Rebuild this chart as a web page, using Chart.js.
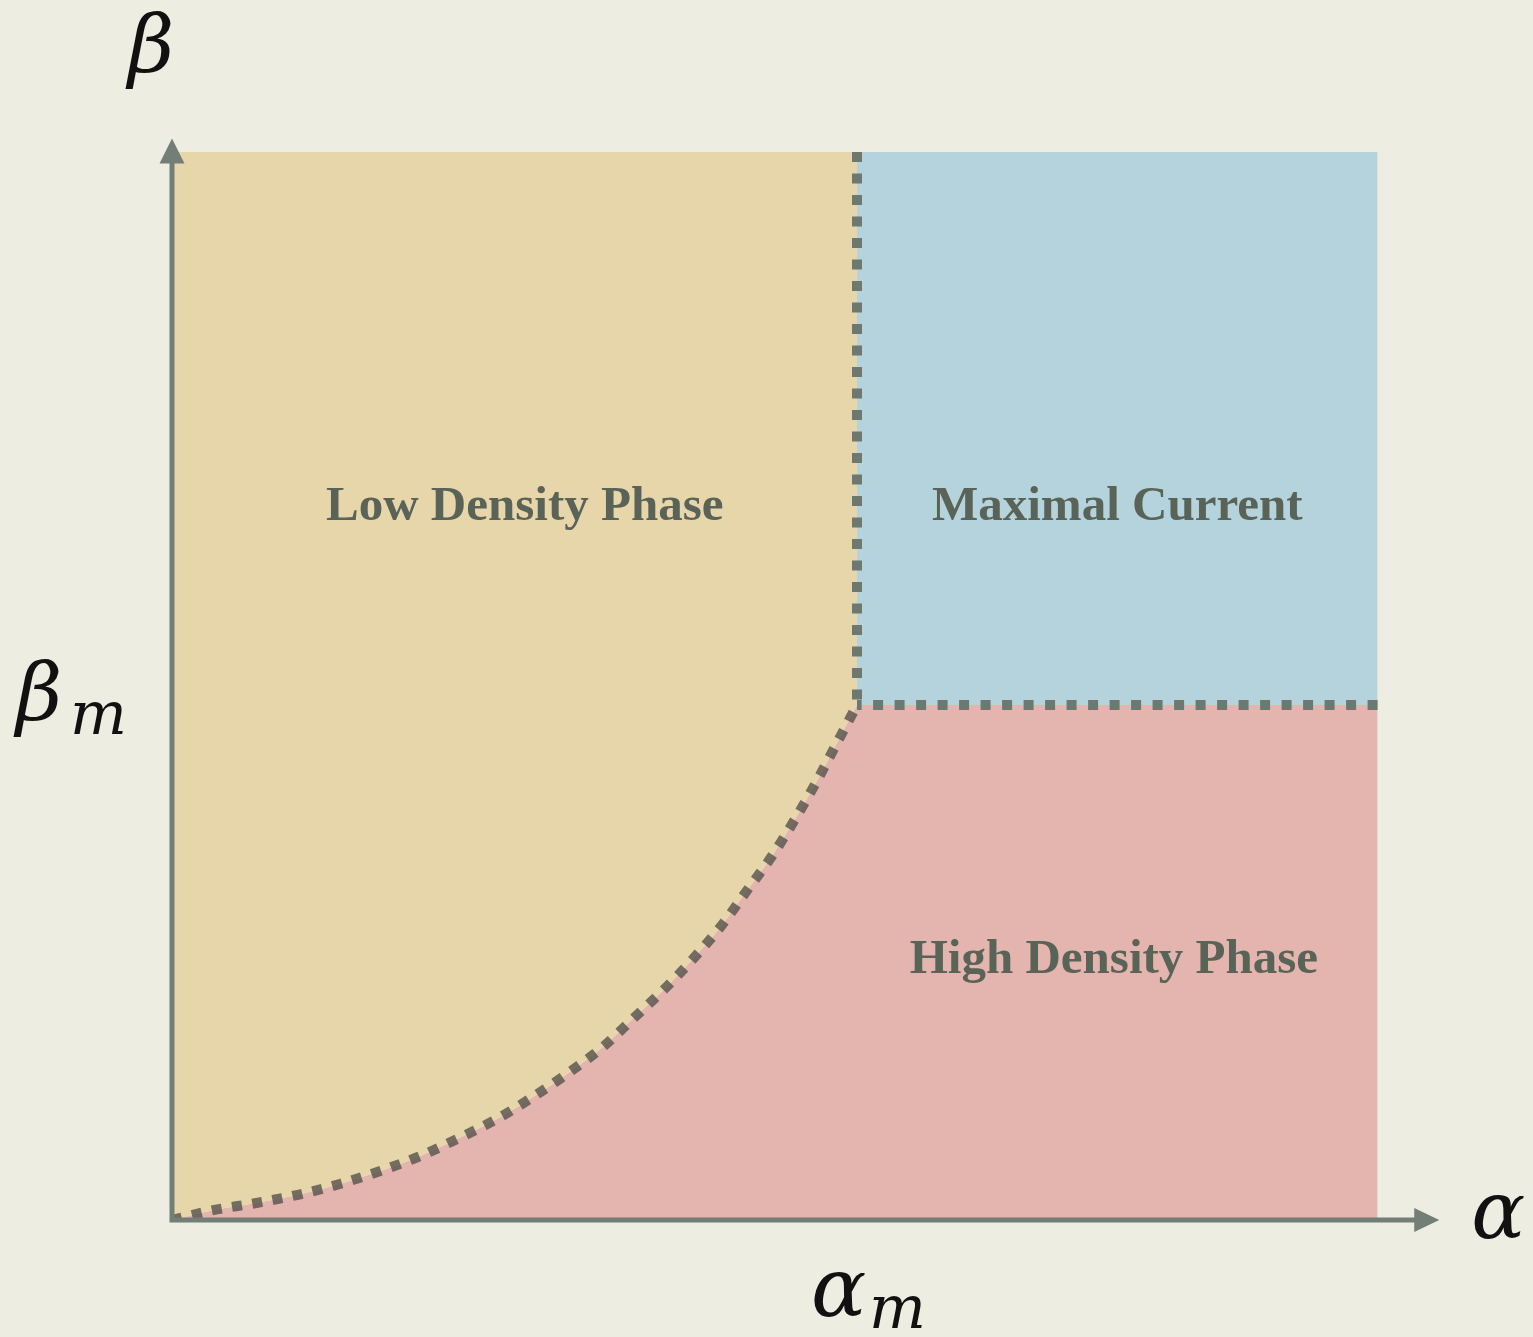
<!DOCTYPE html>
<html>
<head>
<meta charset="utf-8">
<script src="https://cdn.jsdelivr.net/npm/chart.js@4.4.0/dist/chart.umd.min.js"></script>
<style>
  html, body { margin: 0; padding: 0; background: #eeede1; }
  #wrap { width: 1533px; height: 1337px; position: relative; }
</style>
</head>
<body>
<div id="wrap"><canvas id="c" width="1533" height="1337"></canvas></div>
<script>
// ---- data (units: alpha / alpha_m, beta / beta_m) ----
const alphaCurve = [0, 0.060, 0.123, 0.184, 0.245, 0.304, 0.362, 0.419, 0.474, 0.527, 0.578, 0.629, 0.674, 0.720, 0.762, 0.803, 0.839, 0.876, 0.909, 0.940, 0.969, 1.0];
const betaCurve  = [0, 0.019, 0.033, 0.049, 0.070, 0.095, 0.124, 0.159, 0.196, 0.239, 0.285, 0.336, 0.392, 0.450, 0.509, 0.573, 0.639, 0.707, 0.777, 0.849, 0.922, 1.0];
const alphaM = 1;
const betaM = 1;
const alphaEdge = 1.76;   // right edge of shaded regions
const betaEdge = 2.074;   // top edge of shaded regions
const alphaAxisMax = 1.85;
const betaAxisMax = 2.10;
const regionLabels = ["Low Density Phase", "Maximal Current", "High Density Phase"];
const regionLabelPos = [[0.515, 1.384], [1.38, 1.384], [1.375, 0.505]];

const curvePts = alphaCurve.map((a, i) => ({x: a, y: betaCurve[i]}));

const axisColor = '#737f76';
const dotColor = '#6d7870';
const smooth = { cubicInterpolationMode: 'monotone' };

const datasets = [
  { // dotted phase boundary curve (top)
    data: curvePts, borderColor: 'rgba(85,82,78,0.8)', borderWidth: 10, borderDash: [10, 10.5],
    pointRadius: 0, fill: false, order: 0, borderCapStyle: 'butt', ...smooth
  },
  { // vertical boundary alpha = alpha_m
    data: [{x: alphaM, y: betaEdge}, {x: alphaM, y: betaM}], borderColor: dotColor, borderWidth: 10,
    borderDash: [10, 11.5], pointRadius: 0, fill: false, order: 1
  },
  { // horizontal boundary beta = beta_m
    data: [{x: alphaEdge, y: betaM}, {x: alphaM, y: betaM}], borderColor: dotColor, borderWidth: 10,
    borderDash: [10, 11.5], pointRadius: 0, fill: false, order: 1
  },
  { // low density region
    data: [...curvePts], borderWidth: 0, borderColor: 'rgba(0,0,0,0)', backgroundColor: '#e8d6ab',
    pointRadius: 0, fill: {value: betaEdge}, order: 5, ...smooth
  },
  { // high density region (under the curve)
    data: [...curvePts], borderWidth: 0, borderColor: 'rgba(0,0,0,0)', backgroundColor: '#e3b5ae',
    pointRadius: 0, fill: {value: 0}, order: 5, ...smooth
  },
  { // high density region (alpha > alpha_m)
    data: [{x: alphaM, y: betaM}, {x: alphaEdge, y: betaM}], borderWidth: 0, borderColor: 'rgba(0,0,0,0)', backgroundColor: '#e3b5ae',
    pointRadius: 0, fill: {value: 0}, order: 5
  },
  { // maximal current region
    data: [{x: alphaM, y: betaM}, {x: alphaEdge, y: betaM}], borderWidth: 0, borderColor: 'rgba(0,0,0,0)', backgroundColor: '#b5d3dc',
    pointRadius: 0, fill: {value: betaEdge}, order: 5
  }
];

const decor = {
  id: 'decor',
  afterDatasetsDraw(chart) {
    const ctx = chart.ctx;
    const xs = chart.scales.x, ys = chart.scales.y;
    const x0 = xs.getPixelForValue(0), y0 = ys.getPixelForValue(0);
    const xEnd = xs.getPixelForValue(alphaAxisMax), yEnd = ys.getPixelForValue(betaAxisMax);
    ctx.save();
    // axes
    ctx.strokeStyle = axisColor; ctx.fillStyle = axisColor; ctx.lineWidth = 5;
    ctx.beginPath();
    ctx.moveTo(x0, y0 + 2.5); ctx.lineTo(x0, yEnd + 20);
    ctx.moveTo(x0 - 2.5, y0); ctx.lineTo(xEnd - 20, y0);
    ctx.stroke();
    ctx.beginPath();
    ctx.moveTo(x0, yEnd); ctx.lineTo(x0 - 12.5, yEnd + 25); ctx.lineTo(x0 + 12.5, yEnd + 25); ctx.closePath(); ctx.fill();
    ctx.beginPath();
    ctx.moveTo(xEnd, y0); ctx.lineTo(xEnd - 25, y0 - 12); ctx.lineTo(xEnd - 25, y0 + 12); ctx.closePath(); ctx.fill();

    // region labels
    ctx.fillStyle = '#5a6358';
    ctx.font = 'bold 49px "Liberation Serif"';
    ctx.textAlign = 'center'; ctx.textBaseline = 'middle';
    regionLabels.forEach((t, i) => {
      ctx.fillText(t, xs.getPixelForValue(regionLabelPos[i][0]), ys.getPixelForValue(regionLabelPos[i][1]));
    });

    // math labels
    ctx.fillStyle = '#111';
    ctx.textBaseline = 'alphabetic';
    ctx.textAlign = 'left';
    ctx.font = 'italic 80px "DejaVu Serif"';
    ctx.fillText('β', 128, 72);
    // alpha at right
    ctx.font = 'italic 80px "DejaVu Serif"';
    ctx.fillText('α', xEnd + 32, y0 + 18);
    // beta_m
    const ym = ys.getPixelForValue(betaM);
    ctx.font = 'italic 80px "DejaVu Serif"';
    ctx.fillText('β', 16, ym + 15);
    ctx.font = 'italic 60px "DejaVu Serif"';
    ctx.fillText('m', 70, ym + 29);
    // alpha_m
    const xm = xs.getPixelForValue(alphaM);
    ctx.font = 'italic 82px "DejaVu Serif"';
    ctx.fillText('α', xm - 46, y0 + 96);
    ctx.font = 'italic 60px "DejaVu Serif"';
    ctx.fillText('m', xm + 12, y0 + 108);
    ctx.restore();
  }
};

new Chart(document.getElementById('c'), {
  type: 'line',
  data: { datasets },
  options: {
    responsive: false,
    animation: false,
    events: [],
    layout: { padding: { left: 172, right: 1533 - 172 - alphaAxisMax * 685, top: 1220 - betaAxisMax * 515, bottom: 117 } },
    plugins: { legend: { display: false }, tooltip: { enabled: false }, filler: { propagate: false } },
    scales: {
      x: { type: 'linear', min: 0, max: alphaAxisMax, display: false },
      y: { type: 'linear', min: 0, max: betaAxisMax, display: false }
    }
  },
  plugins: [decor]
});
</script>
</body>
</html>
